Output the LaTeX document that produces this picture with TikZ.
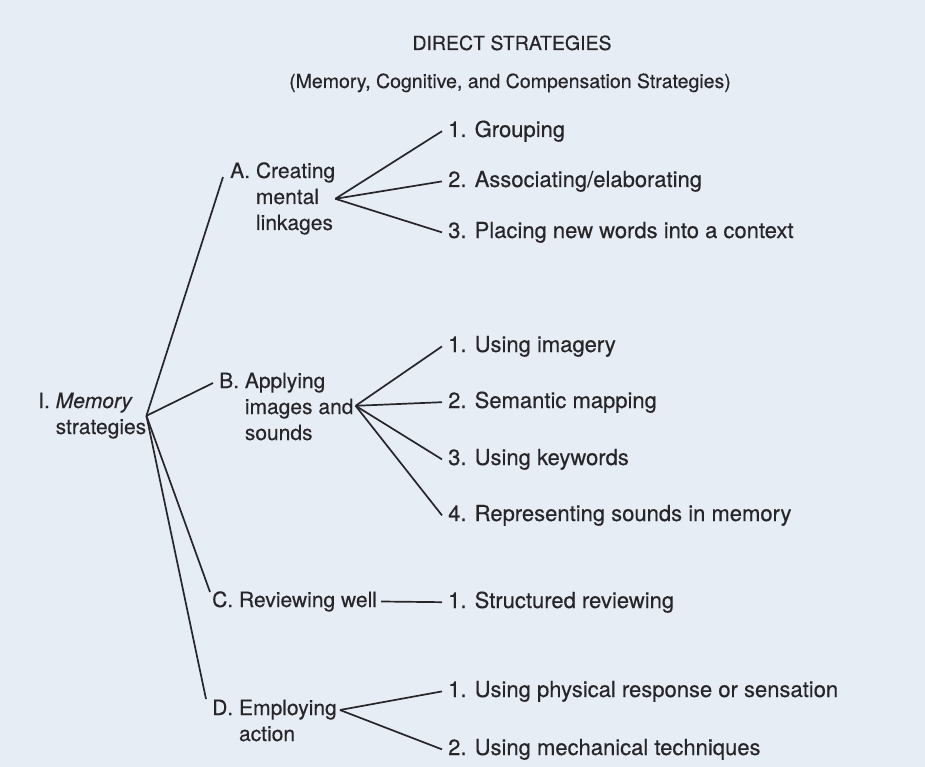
\documentclass[tikz,border=0pt]{standalone}
\usepackage{fontspec}
\setmainfont{TeX Gyre Heros}[FakeBold=0.3]
\usetikzlibrary{positioning}
\newcommand{\stratlabel}[2]{#1~\begin{tabular}[t]{@{}l@{}}#2\end{tabular}}

\begin{document}
\begin{tikzpicture}[x=1pt,y=-1pt,
  head/.style={font=\fontsize{19.5}{23}\selectfont,text=ink,anchor=base},
  strat/.style={font=\fontsize{21}{26}\selectfont,text=ink,inner sep=0pt,anchor=base west},
  item/.style={font=\fontsize{22}{26}\selectfont,text=ink,inner xsep=6pt,inner ysep=0pt,anchor=base west},
  link/.style={draw=ink,line width=1.7pt}]
\definecolor{ink}{RGB}{38,38,42}\definecolor{page}{RGB}{231,237,245}
\fill[page] (0,0) rectangle (925,767);
% heading
\node[head] (title) at (512,50) {DIRECT STRATEGIES};
\node[head] (subtitle) at (510,88) {(Memory, Cognitive, and Compensation Strategies)};
% memory strategies and its four groups
\node[strat] (mem) at (38,408) {\stratlabel{I.}{\textit{Memory}\\strategies}};
\node[strat] (A) at (230,178) {\stratlabel{A.}{Creating\\mental\\linkages}};
\node[strat] (B) at (219,388) {\stratlabel{B.}{Applying\\images and\\sounds}};
\node[strat] (C) at (212,607) {C. Reviewing well};
\node[strat] (D) at (212,715) {\stratlabel{D.}{Employing\\action}};
\draw[link] (mem.east) -- ([shift={(-7,-1)}]A.base west);
\draw[link] (mem.east) -- ([shift={(-6,-5)}]B.base west);
\draw[link] (mem.east) -- ([shift={(-2,-15)}]C.base west);
\draw[link] (mem.east) -- ([shift={(-6,-16)}]D.base west);
% A
\node[item] (A1) at (442,137) {1. Grouping};
\node[item] (A2) at (442,187) {2. Associating/elaborating};
\node[item] (A3) at (442,238) {3. Placing new words into a context};
\foreach \i in {A1,A2,A3} \draw[link] (A.east) -- (\i.west);
% B
\node[item] (B1) at (442,352) {1. Using imagery};
\node[item] (B2) at (442,408) {2. Semantic mapping};
\node[item] (B3) at (442,465) {3. Using keywords};
\node[item] (B4) at (442,521) {4. Representing sounds in memory};
\foreach \i in {B1,B2,B3,B4} \draw[link] ([shift={(2,-3)}]B.east) -- (\i.west);
% C
\node[item] (C1) at (442,608) {1. Structured reviewing};
\draw[link,shorten <=4pt] (C.east) -- (C1.west);
% D
\node[item] (D1) at (442,697) {1. Using physical response or sensation};
\node[item] (D2) at (442,755) {2. Using mechanical techniques};
\foreach \i in {D1,D2} \draw[link] ([shift={(3,-5)}]D.base east) -- (\i.west);
\end{tikzpicture}
\end{document}
